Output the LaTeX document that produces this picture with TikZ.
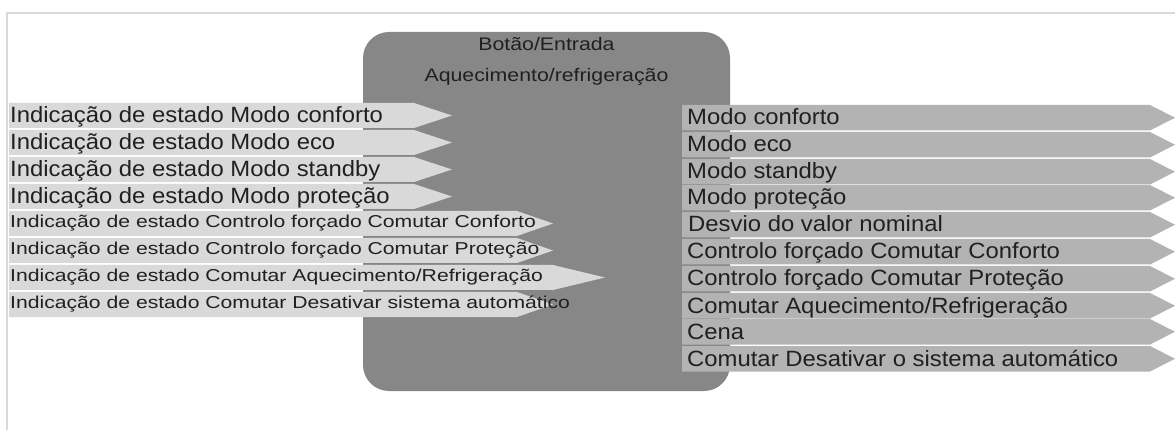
\documentclass[tikz,border=0pt]{standalone}
\usepackage{fontspec}
\newfontfamily\portfont[FakeStretch=1.08]{Liberation Sans}
\newfontfamily\narrowfont[FakeStretch=1.23]{Liberation Sans}
\newfontfamily\titlefont[FakeStretch=1.17]{Liberation Sans}
\definecolor{framegray}{RGB}{217, 217, 217}
\definecolor{blockgray}{RGB}{135, 135, 135}
\definecolor{inputgray}{RGB}{217, 217, 217}
\definecolor{outputgray}{RGB}{179, 179, 179}
\definecolor{inkgray}{RGB}{35, 31, 32}
\tikzset{
    titletext/.style  = {inner sep=0pt, text=inkgray, font=\titlefont\fontsize{18.2}{20}\selectfont},
    porttext/.style   = {inner sep=0pt, anchor=base west, text=inkgray, font=\portfont\fontsize{22.1}{24}\selectfont},
    narrowtext/.style = {inner sep=0pt, anchor=base west, text=inkgray, font=\narrowfont\fontsize{17.2}{19}\selectfont}
}

\begin{document}
\begin{tikzpicture}[x=1pt, y=-1pt]
            \useasboundingbox                                          (0, 0) rectangle (1175, 430);
            \draw[framegray, line width=2pt]                           (1180, 13) -- (7, 13) -- (7, 432);
            \fill[blockgray, rounded corners=26pt]                     (363, 32) rectangle (730, 391);
            \node[titletext] (title)    at (546.5, 44) {Botão/Entrada};
            \node[titletext] (subtitle) at (546.5, 77) {Aquecimento/refrigeração};
            % inputs
            \fill[inputgray] (9, 103) -- (414, 103) -- (452, 115.5) -- (414, 128) -- (9, 128) -- cycle;
            \fill[inputgray] (9, 130) -- (414, 130) -- (452, 142.5) -- (414, 155) -- (9, 155) -- cycle;
            \fill[inputgray] (9, 157) -- (414, 157) -- (452, 169.5) -- (414, 182) -- (9, 182) -- cycle;
            \fill[inputgray] (9, 184) -- (414, 184) -- (452, 196.5) -- (414, 209) -- (9, 209) -- cycle;
            \fill[inputgray] (9, 211) -- (517, 211) -- (553, 223.5) -- (517, 236) -- (9, 236) -- cycle;
            \fill[inputgray] (9, 238) -- (517, 238) -- (553, 250.5) -- (517, 263) -- (9, 263) -- cycle;
            \fill[inputgray] (9, 265) -- (553, 265) -- (605, 277.5) -- (553, 290) -- (9, 290) -- cycle;
            \fill[inputgray] (9, 292) -- (517, 292) -- (553, 304.5) -- (517, 317) -- (9, 317) -- cycle;
            \node[porttext]   (in1) at (10, 122.7) {Indicação de estado Modo conforto};
            \node[porttext]   (in2) at (10, 149.7) {Indicação de estado Modo eco};
            \node[porttext]   (in3) at (10, 176.7) {Indicação de estado Modo standby};
            \node[porttext]   (in4) at (10, 203.7) {Indicação de estado Modo proteção};
            \node[narrowtext] (in5) at (10, 227.7) {Indicação de estado Controlo forçado Comutar Conforto};
            \node[narrowtext] (in6) at (10, 254.7) {Indicação de estado Controlo forçado Comutar Proteção};
            \node[narrowtext] (in7) at (10, 281.7) {Indicação de estado Comutar Aquecimento/Refrigeração};
            \node[narrowtext] (in8) at (10, 308.7) {Indicação de estado Comutar Desativar sistema automático};
            % outputs
            \fill[outputgray] (682, 105) -- (1150, 105) -- (1175, 117.75) -- (1150, 130.5) -- (682, 130.5) -- cycle;
            \fill[outputgray] (682, 132) -- (1150, 132) -- (1175, 144.75) -- (1150, 157.5) -- (682, 157.5) -- cycle;
            \fill[outputgray] (682, 159) -- (1150, 159) -- (1175, 171.75) -- (1150, 184.5) -- (682, 184.5) -- cycle;
            \fill[outputgray] (682, 185) -- (1150, 185) -- (1175, 197.75) -- (1150, 210.5) -- (682, 210.5) -- cycle;
            \fill[outputgray] (682, 212) -- (1150, 212) -- (1175, 224.75) -- (1150, 237.5) -- (682, 237.5) -- cycle;
            \fill[outputgray] (682, 239) -- (1150, 239) -- (1175, 251.75) -- (1150, 264.5) -- (682, 264.5) -- cycle;
            \fill[outputgray] (682, 266) -- (1150, 266) -- (1175, 278.75) -- (1150, 291.5) -- (682, 291.5) -- cycle;
            \fill[outputgray] (682, 293) -- (1150, 293) -- (1175, 305.75) -- (1150, 318.5) -- (682, 318.5) -- cycle;
            \fill[outputgray] (682, 319) -- (1150, 319) -- (1175, 331.75) -- (1150, 344.5) -- (682, 344.5) -- cycle;
            \fill[outputgray] (682, 346) -- (1150, 346) -- (1175, 358.75) -- (1150, 371.5) -- (682, 371.5) -- cycle;
            \node[porttext] (out1)  at (687, 125) {Modo conforto};
            \node[porttext] (out2)  at (687, 152) {Modo eco};
            \node[porttext] (out3)  at (687, 179) {Modo standby};
            \node[porttext] (out4)  at (687, 205) {Modo proteção};
            \node[porttext] (out5)  at (688, 232) {Desvio do valor nominal};
            \node[porttext] (out6)  at (687, 259) {Controlo forçado Comutar Conforto};
            \node[porttext] (out7)  at (687, 286) {Controlo forçado Comutar Proteção};
            \node[porttext] (out8)  at (687, 313) {Comutar Aquecimento/Refrigeração};
            \node[porttext] (out9)  at (687, 339) {Cena};
            \node[porttext] (out10) at (687, 366) {Comutar Desativar o sistema automático};
        \end{tikzpicture}
\end{document}
